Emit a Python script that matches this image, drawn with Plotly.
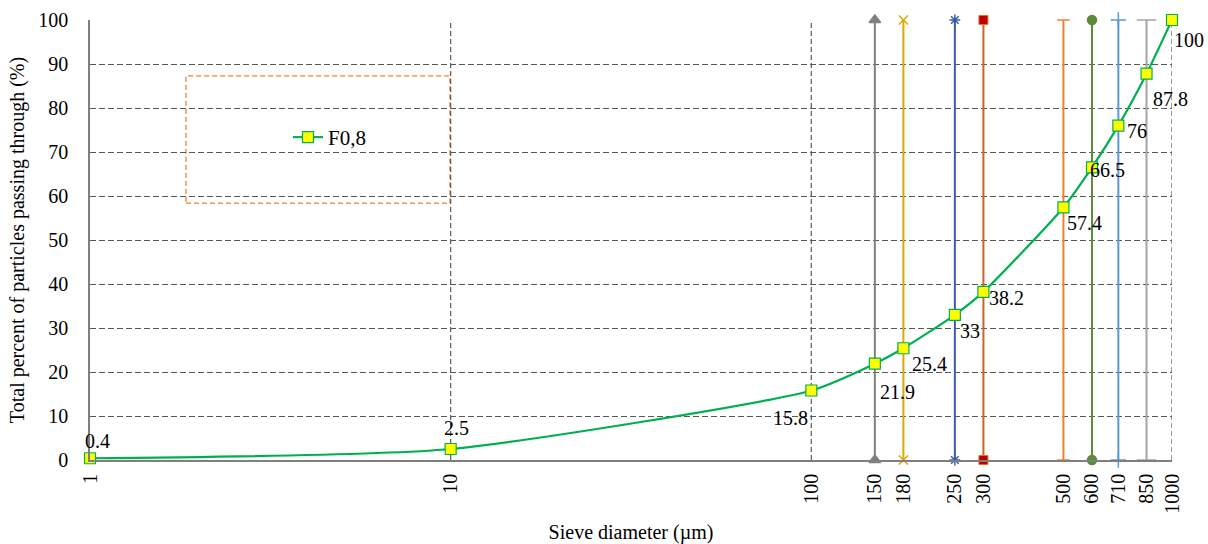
import numpy as np
import plotly.graph_objects as go

# Data
sieve = [1, 10, 100, 150, 180, 250, 300, 500, 600, 710, 850, 1000]
passing = [0.4, 2.5, 15.8, 21.9, 25.4, 33, 38.2, 57.4, 66.5, 76, 87.8, 100]
series_name = "F0,8"

ref_sizes = [150, 180, 250, 300, 500, 600, 710, 850]
grid_x = [10, 100, 1000]
y_ticks = list(range(0, 101, 10))
x_ticks = sieve

# Styles
ref_styles = {
    150: dict(color="#7F7F7F", symbol="triangle-up", size=10, mcolor="#7F7F7F"),
    180: dict(color="#DDA600", symbol="x-thin", size=9, mcolor="#DDA600"),
    250: dict(color="#3A5DA8", symbol="asterisk", size=9, mcolor="#3A5DA8"),
    300: dict(color="#C8662A", symbol="square", size=9, mcolor="#C00000"),
    500: dict(color="#F08030", symbol="line-ew", size=9, mcolor="#F08030"),
    600: dict(color="#5B8C3A", symbol="circle", size=9, mcolor="#5B8C3A"),
    710: dict(color="#5B9BD5", symbol="cross-thin", size=11, mcolor="#5B9BD5"),
    850: dict(color="#A5A5A5", symbol="line-ew", size=14, mcolor="#A5A5A5"),
}
label_offsets = {
    0.4: (7, 17), 2.5: (6, 21), 15.8: (-21, -28), 21.9: (23, -28),
    25.4: (26, -16), 33: (15, -16), 38.2: (23, -6), 57.4: (21, -16),
    66.5: (16, -3), 76: (19, -5), 87.8: (24, -25), 100: (17, -20),
}

FONT = "Liberation Serif, Times New Roman, serif"
GRID = "#595959"
DASH = "6px,3px"

fig = go.Figure()

# Vertical dashed gridlines at decades
for gx in grid_x:
    fig.add_trace(go.Scatter(x=[gx, gx], y=[0, 100], mode="lines",
                             line=dict(color=GRID, width=1.2, dash="5px,3px"),
                             showlegend=False, hoverinfo="skip"))

# Reference sieve lines
for s in ref_sizes:
    st = ref_styles[s]
    mk = dict(symbol=st["symbol"], size=st["size"], color=st["mcolor"],
              line=dict(color=st["color"], width=1.5))
    if s == 300:
        mk["line"] = dict(color="#E07030", width=1)
    fig.add_trace(go.Scatter(x=[s, s], y=[0, 100], mode="lines+markers",
                             line=dict(color=st["color"], width=2),
                             marker=mk, showlegend=False, hoverinfo="skip",
                             cliponaxis=False))

# Main series
fig.add_trace(go.Scatter(x=sieve, y=passing, mode="lines+markers", name=series_name,
                         line=dict(color="#00B050", width=2.2, shape="spline", smoothing=0.6),
                         marker=dict(symbol="square", size=11, color="#FFFF00",
                                     line=dict(color="#00B050", width=1.2)),
                         cliponaxis=False))

# Data labels
for xv, yv in zip(sieve, passing):
    dx, dy = label_offsets[yv]
    fig.add_annotation(x=np.log10(xv), y=yv, text=f"{yv:g}", showarrow=False,
                       xshift=dx, yshift=dy, xanchor="center", yanchor="middle",
                       font=dict(family=FONT, size=20, color="black"))

# Legend box (dashed orange)
fig.add_shape(type="rect", xref="paper", yref="paper",
              x0=0.0887, x1=0.3327, y0=0.584, y1=0.873,
              line=dict(color="#F08030", width=1.3, dash="5px,3px"),
              fillcolor="white", layer="below")

fig.update_layout(
    width=1208, height=544,
    margin=dict(l=90, r=36, t=20, b=84),
    paper_bgcolor="white", plot_bgcolor="white",
    font=dict(family=FONT, size=20, color="black"),
    showlegend=True,
    legend=dict(x=0.183, y=0.733, xanchor="left", yanchor="middle",
                bgcolor="rgba(0,0,0,0)", borderwidth=0,
                font=dict(family=FONT, size=21, color="black")),
    xaxis=dict(type="log", range=[0, 3], tickvals=x_ticks,
               ticktext=[str(v) for v in x_ticks], tickangle=-90,
               showgrid=False, zeroline=False,
               showline=True, linecolor="#7F7F7F", linewidth=1.5,
               ticks="", ticklabelstandoff=4, tickfont=dict(family=FONT, size=20),
               automargin=False,
               title=dict(text="Sieve diameter (µm)", standoff=16,
                          font=dict(family=FONT, size=20))),
    yaxis=dict(range=[0, 100], tickvals=y_ticks, showgrid=True,
               gridcolor=GRID, griddash=DASH, gridwidth=1.2,
               zeroline=False, showline=True, linecolor="#7F7F7F", linewidth=1.5,
               ticks="", ticklabelstandoff=16, tickfont=dict(family=FONT, size=20),
               automargin=False,
               title=dict(text="Total percent of particles passing through (%)",
                          standoff=8, font=dict(family=FONT, size=20))),
)

fig.write_html("out.html")
